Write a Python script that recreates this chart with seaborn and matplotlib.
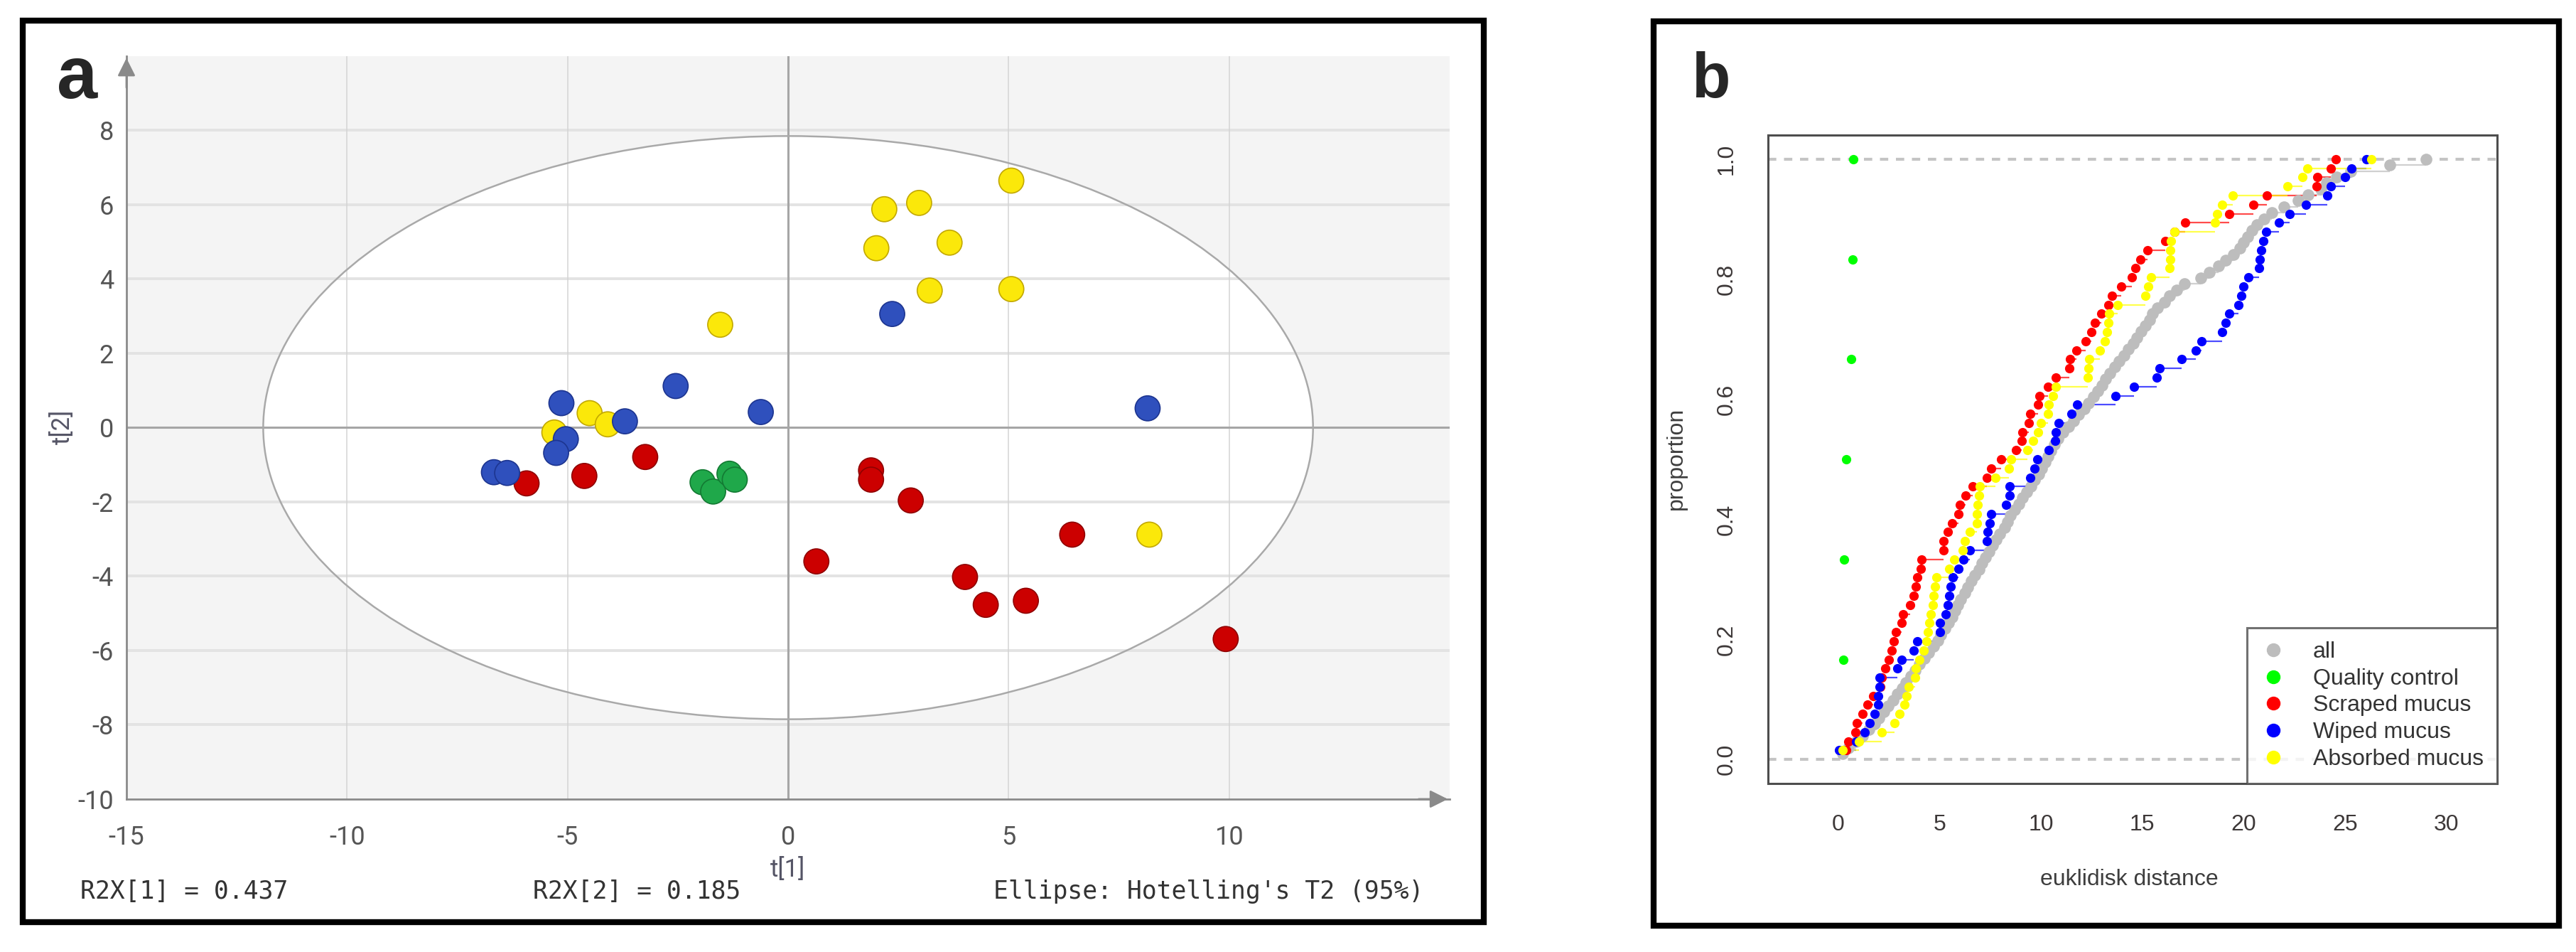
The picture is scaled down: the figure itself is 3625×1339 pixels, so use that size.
import numpy as np
import pandas as pd
import seaborn as sns
import matplotlib.pyplot as plt
from matplotlib.patches import Ellipse, Rectangle
from matplotlib.lines import Line2D
from matplotlib.ticker import FixedLocator, FormatStrFormatter

# ---------- panel a: PCA scores ----------
absorbed_t1 = [-1.54, -4.50, -4.09, -5.30, 5.06, 2.97, 2.18, 3.66, 2.00, 3.21, 5.06, 8.19]
absorbed_t2 = [2.77, 0.39, 0.09, -0.13, 6.65, 6.05, 5.88, 4.98, 4.83, 3.69, 3.73, -2.88]
scraped_t1 = [-5.93, -4.62, -3.24, 1.88, 1.88, 2.78, 0.64, 4.01, 4.48, 5.39, 6.44, 9.92]
scraped_t2 = [-1.50, -1.30, -0.79, -1.15, -1.40, -1.96, -3.60, -4.02, -4.77, -4.66, -2.88, -5.69]
qc_t1 = [-1.94, -1.70, -1.33, -1.21]
qc_t2 = [-1.47, -1.72, -1.24, -1.40]
wiped_t1 = [-2.55, -5.14, -3.70, -0.62, -5.04, -5.26, -6.67, -6.37, 2.36, 8.15]
wiped_t2 = [1.12, 0.66, 0.17, 0.42, -0.31, -0.68, -1.20, -1.22, 3.06, 0.52]

r2x = [0.437, 0.185]
ellipse_semi = (11.9, 7.85)  # Hotelling's T2 (95%)

# ---------- panel b: pairwise distances ----------
qc_dist = [0.25, 0.3, 0.4, 0.65, 0.7, 0.75]
scraped_dist = [0.39, 0.51, 0.86, 0.92, 1.21, 1.45, 1.74, 2.09, 2.15, 2.32,
                2.5, 2.62, 2.73, 2.85, 3.14, 3.2, 3.55, 3.73, 3.84, 3.9,
                4.08, 4.1, 5.19, 5.2, 5.42, 5.6, 5.95, 6.0, 6.3, 6.65,
                7.35, 7.53, 8.05, 8.76, 9.05, 9.1, 9.41, 9.46, 9.87, 9.93,
                10.34, 10.75, 11.39, 11.45, 11.75, 12.21, 12.5, 12.68, 12.97, 13.32,
                13.5, 13.97, 14.5, 14.67, 14.9, 15.25, 16.13, 16.6, 17.13, 19.3,
                20.5, 21.15, 23.6, 23.65, 24.3, 24.55]
wiped_dist = [0.05, 0.9, 1.3, 1.56, 1.8, 1.97, 1.98, 2.03, 2.05, 2.9,
              3.14, 3.73, 3.9, 5.01, 5.02, 5.31, 5.42, 5.48, 5.54, 5.66,
              5.95, 6.18, 6.48, 7.35, 7.36, 7.47, 7.53, 8.29, 8.46, 8.47,
              9.46, 9.69, 9.81, 10.4, 10.69, 10.75, 10.87, 11.51, 11.8, 13.68,
              14.61, 15.72, 15.84, 16.95, 17.65, 17.94, 18.94, 19.11, 19.29, 19.76,
              19.87, 19.99, 20.23, 20.75, 20.81, 20.87, 20.99, 21.1, 21.75, 22.27,
              23.09, 24.14, 24.32, 25.02, 25.31, 26.07]
absorbed_dist = [0.22, 1.04, 2.15, 2.79, 3.03, 3.26, 3.38, 3.49, 3.79, 3.84,
                 4.02, 4.2, 4.37, 4.43, 4.49, 4.55, 4.66, 4.72, 4.78, 4.84,
                 5.48, 5.72, 6.13, 6.24, 6.48, 6.83, 6.85, 6.89, 6.94, 7.0,
                 7.76, 8.41, 8.52, 9.34, 9.6, 9.87, 9.99, 10.34, 10.4, 10.58,
                 10.75, 12.33, 12.36, 12.39, 12.92, 13.15, 13.27, 13.32, 13.38, 13.79,
                 15.14, 15.31, 15.43, 16.35, 16.37, 16.39, 16.42, 16.6, 18.59, 18.7,
                 18.94, 19.46, 22.15, 22.92, 23.15, 26.31]
all_dist = [0.2, 0.5, 0.9, 1.2, 1.5, 1.8, 2.0, 2.25, 2.45, 2.7, 2.9,
            3.15, 3.35, 3.6, 3.8, 4.0, 4.25, 4.45, 4.7, 4.9, 5.05,
            5.25, 5.45, 5.6, 5.75, 5.9, 6.05, 6.25, 6.4, 6.55, 6.75,
            6.95, 7.1, 7.25, 7.45, 7.6, 7.8, 7.95, 8.2, 8.35, 8.5,
            8.7, 8.9, 9.1, 9.3, 9.5, 9.7, 9.9, 10.05, 10.2, 10.35,
            10.5, 10.65, 10.85, 11.1, 11.35, 11.6, 11.85, 12.15, 12.35, 12.6,
            12.8, 13.0, 13.2, 13.4, 13.65, 13.85, 14.1, 14.3, 14.55, 14.75,
            14.95, 15.15, 15.35, 15.5, 15.75, 16.1, 16.35, 16.7, 17.1, 17.9,
            18.3, 18.75, 19.1, 19.5, 19.8, 20.0, 20.2, 20.4, 20.65, 21.0,
            21.4, 22.0, 22.7, 23.2, 23.8, 24.1, 24.6, 25.3, 27.2, 29.0]

sns.set_style('white')
plt.rcParams['font.family'] = ['Liberation Sans', 'DejaVu Sans']
plt.rcParams['axes.unicode_minus'] = False

fig = plt.figure(figsize=(36.25, 13.39), dpi=100)

# ================= panel a =================
df_a = pd.concat([
    pd.DataFrame({'t1': absorbed_t1, 't2': absorbed_t2, 'group': 'Absorbed mucus'}),
    pd.DataFrame({'t1': scraped_t1, 't2': scraped_t2, 'group': 'Scraped mucus'}),
    pd.DataFrame({'t1': qc_t1, 't2': qc_t2, 'group': 'Quality control'}),
    pd.DataFrame({'t1': wiped_t1, 't2': wiped_t2, 'group': 'Wiped mucus'}),
], ignore_index=True)

pal_a = {'Absorbed mucus': '#fbe80a', 'Scraped mucus': '#cc0000',
         'Quality control': '#1fa84a', 'Wiped mucus': '#2f50bd'}
edge_a = {'Absorbed mucus': '#c2a800', 'Scraped mucus': '#8f0000',
          'Quality control': '#137a33', 'Wiped mucus': '#1d3590'}

ax_a = fig.add_axes([0.0491, 0.1606, 0.5137, 0.7804])
ax_a.set_facecolor('#f4f4f4')
ax_a.set_xlim(-15, 15)
ax_a.set_ylim(-10, 10)

ax_a.add_patch(Ellipse((0, 0), 2 * ellipse_semi[0], 2 * ellipse_semi[1],
                       facecolor='white', edgecolor='none', zorder=0.2))
for yv in [-8, -6, -4, -2, 2, 4, 6, 8]:
    ax_a.axhline(yv, color='#e3e3e3', lw=2.8, zorder=0.5)
for xv in [-10, -5, 5, 10]:
    ax_a.axvline(xv, color='#d4d4d4', lw=1.1, zorder=0.5)
ax_a.axhline(0, color='#a6a6a6', lw=2.2, zorder=0.6)
ax_a.axvline(0, color='#a6a6a6', lw=2.2, zorder=0.6)
ax_a.add_patch(Ellipse((0, 0), 2 * ellipse_semi[0], 2 * ellipse_semi[1],
                       facecolor='none', edgecolor='#a9a9a9', lw=1.8, zorder=1.5))

sns.scatterplot(data=df_a, x='t1', y='t2', hue='group', palette=pal_a, s=640,
                edgecolor=df_a['group'].map(edge_a).tolist(), linewidth=1.2,
                legend=False, ax=ax_a, zorder=3)

for side in ['top', 'right']:
    ax_a.spines[side].set_visible(False)
for side in ['left', 'bottom']:
    ax_a.spines[side].set_color('#8a8a8a')
    ax_a.spines[side].set_linewidth(2)

ax_a.xaxis.set_major_locator(FixedLocator([-15, -10, -5, 0, 5, 10]))
ax_a.xaxis.set_minor_locator(FixedLocator([-12.5, -7.5, -2.5, 2.5, 7.5, 12.5]))
ax_a.yaxis.set_major_locator(FixedLocator(list(range(-10, 9, 2))))
ax_a.yaxis.set_minor_locator(FixedLocator(list(range(-9, 10, 2))))
ax_a.tick_params(which='major', direction='out', length=9, width=1.6, color='#8a8a8a',
                 labelsize=26, labelcolor='#555555')
ax_a.tick_params(axis='x', which='major', pad=17)
ax_a.tick_params(axis='y', which='major', pad=4)
ax_a.tick_params(which='minor', direction='out', length=6, width=1.4, color='#8a8a8a')
for lab in ax_a.get_xticklabels() + ax_a.get_yticklabels():
    lab.set_family('Roboto')
ax_a.set_xlabel('')
ax_a.set_ylabel('')

# axis arrows
ax_a.annotate('', xy=(0, 1.0), xytext=(0, 0.955), xycoords='axes fraction',
              arrowprops=dict(arrowstyle='-|>', color='#8a8a8a', lw=2, mutation_scale=38))
ax_a.annotate('', xy=(1.0, 0), xytext=(0.975, 0), xycoords='axes fraction',
              arrowprops=dict(arrowstyle='-|>', color='#8a8a8a', lw=2, mutation_scale=38))

ax_a.text(0.4995, -0.095, 't[1]', transform=ax_a.transAxes, ha='center', va='center',
          fontsize=25, color='#555566', family='Roboto')
ax_a.text(-0.0485, 0.501, 't[2]', transform=ax_a.transAxes, ha='center', va='center',
          rotation=90, fontsize=25, color='#555566', family='Roboto')

fig.text(0.0312, 0.0635, f'R2X[1] = {r2x[0]:.3f}', ha='left', va='center',
         fontsize=25, color='#333333', family='DejaVu Sans Mono')
fig.text(0.2069, 0.0635, f'R2X[2] = {r2x[1]:.3f}', ha='left', va='center',
         fontsize=25, color='#333333', family='DejaVu Sans Mono')
fig.text(0.5526, 0.0635, "Ellipse: Hotelling's T2 (95%)", ha='right', va='center',
         fontsize=25, color='#333333', family='DejaVu Sans Mono')

fig.text(0.0221, 0.897, 'a', ha='left', va='baseline', fontsize=74, fontweight='bold')

# ================= panel b =================
ax_b = fig.add_axes([0.6863, 0.177, 0.283, 0.681])
xmin, xmax = -3.47, 32.5
ax_b.set_xlim(xmin, xmax)
ax_b.set_ylim(-0.04, 1.04)

series_b = [
    ('all', all_dist, '#bdbdbd', 12),
    ('Quality control', qc_dist, '#00ff00', 9.5),
    ('Scraped mucus', scraped_dist, '#ff0000', 9.5),
    ('Wiped mucus', wiped_dist, '#0000ff', 9.5),
    ('Absorbed mucus', absorbed_dist, '#ffff00', 9.5),
]

for name, vals, col, ms in series_b:
    # points of the ECDF only, horizontal steps drawn separately (no verticals, like R)
    sns.ecdfplot(x=vals, ax=ax_b, color=col, marker='o', linestyle='none',
                 markersize=ms, markeredgewidth=0, zorder=2)
    ln = ax_b.lines[-1]
    xs = np.asarray(ln.get_xdata())[1:]
    ys = np.asarray(ln.get_ydata())[1:]
    ax_b.hlines(ys[:-1], xs[:-1], xs[1:], color=col, lw=1.6, alpha=0.7, zorder=1.5)

ax_b.axhline(0, color='#c4c4c4', lw=3, ls=(0, (2.8, 2.6)), zorder=1.8)
ax_b.axhline(1, color='#c4c4c4', lw=3, ls=(0, (2.8, 2.6)), zorder=1.8)

for side in ax_b.spines:
    ax_b.spines[side].set_color('#4d4d4d')
    ax_b.spines[side].set_linewidth(2.2)
ax_b.set_xticks([0, 5, 10, 15, 20, 25, 30])
ax_b.set_yticks([0.0, 0.2, 0.4, 0.6, 0.8, 1.0])
ax_b.yaxis.set_major_formatter(FormatStrFormatter('%.1f'))
ax_b.tick_params(direction='out', length=13, width=2, color='#4d4d4d',
                 labelsize=23, labelcolor='#3d3838')
ax_b.tick_params(axis='x', pad=18)
ax_b.tick_params(axis='y', pad=18, labelrotation=90)
for lab in ax_b.get_yticklabels():
    lab.set_verticalalignment('center')
ax_b.set_xlabel('')
ax_b.set_ylabel('')
ax_b.text(0.496, -0.148, 'euklidisk distance', transform=ax_b.transAxes,
          ha='center', va='center', fontsize=23, color='#3d3d3d')
ax_b.text(-0.1257, 0.501, 'proportion', transform=ax_b.transAxes, rotation=90,
          ha='center', va='center', fontsize=23, color='#3d3d3d')

handles = [Line2D([], [], marker='o', ls='none', color=col, markersize=13, label=name)
           for name, vals, col, ms in series_b]
leg = ax_b.legend(handles=handles, loc='lower right', bbox_to_anchor=(1, 0),
                  borderaxespad=0, fancybox=False, frameon=True, fontsize=23,
                  borderpad=0.6, handlelength=1.1, handletextpad=1.2,
                  labelspacing=0.24)
leg.get_frame().set_edgecolor('#4d4d4d')
leg.get_frame().set_linewidth(2.2)
for t in leg.get_texts():
    t.set_color('#333333')

fig.text(0.6566, 0.8977, 'b', ha='left', va='baseline', fontsize=64, fontweight='bold')

# panel frames
fig.add_artist(Rectangle((0.0088, 0.0314), 0.5672, 0.9466, transform=fig.transFigure,
                         fill=False, lw=6, ec='black'))
fig.add_artist(Rectangle((0.642, 0.0276), 0.3514, 0.95, transform=fig.transFigure,
                         fill=False, lw=6, ec='black'))

fig.savefig('out.png', dpi=100, facecolor='white')
